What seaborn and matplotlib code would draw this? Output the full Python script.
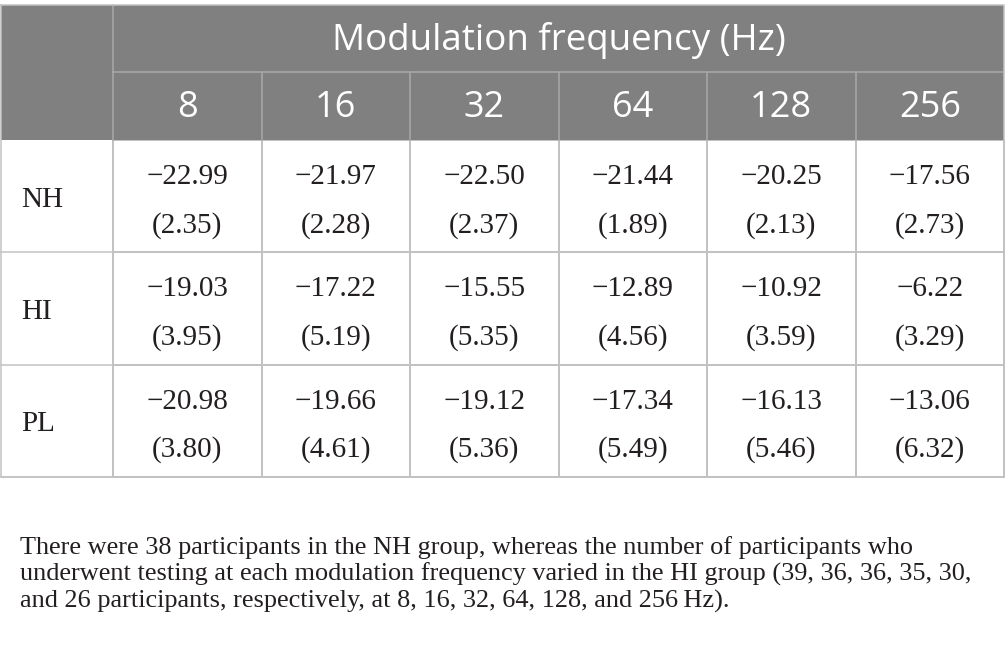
import numpy as np
import matplotlib
matplotlib.use("Agg")
import matplotlib.pyplot as plt
from matplotlib.colors import ListedColormap
from matplotlib.patches import Rectangle
import seaborn as sns

# ---- data ----
groups = ["NH", "HI", "PL"]
freqs = ["8", "16", "32", "64", "128", "256"]
header_title = "Modulation frequency (Hz)"
nh_mean = [-22.99, -21.97, -22.50, -21.44, -20.25, -17.56]
nh_sd = [2.35, 2.28, 2.37, 1.89, 2.13, 2.73]
hi_mean = [-19.03, -17.22, -15.55, -12.89, -10.92, -6.22]
hi_sd = [3.95, 5.19, 5.35, 4.56, 3.59, 3.29]
pl_mean = [-20.98, -19.66, -19.12, -17.34, -16.13, -13.06]
pl_sd = [3.80, 4.61, 5.36, 5.49, 5.46, 6.32]
footnote = [
    "There were 38 participants in the NH group, whereas the number of participants who",
    "underwent testing at each modulation frequency varied in the HI group (39, 36, 36, 35, 30,",
    "and 26 participants, respectively, at 8, 16, 32, 64, 128, and 256\u2009Hz).",
]

means = np.array([nh_mean, hi_mean, pl_mean])
sds = np.array([nh_sd, hi_sd, pl_sd])

W, H = 1005, 655
fig = plt.figure(figsize=(W / 100, H / 100), dpi=100)
ax = fig.add_axes([0, 0, 1, 1])

GRID = "#c2c2c2"
HEAD = "#7f807f"
HEADLINE = "#a9a9a9"
TXT = "#231f20"
SERIF = ["Liberation Serif", "DejaVu Serif"]
SANS = ["Open Sans", "DejaVu Sans"]

sns.heatmap(means, ax=ax, cmap=ListedColormap(["#ffffff"]), cbar=False,
            linewidths=1.1, linecolor=GRID, annot=False,
            xticklabels=False, yticklabels=False)

# pixel mapping: x_px = 113 + x*148.5 ; y_px = 140 + y*112.33
CW, RH = 148.5, 112.33
ax.set_xlim(-113 / CW, (W - 113) / CW)
ax.set_ylim((H - 140) / RH, -140 / RH)
ax.axis("off")

xl = (1 - 113) / CW
xr = (1004 - 113) / CW
yt = (4.5 - 140) / RH
ym = (72 - 140) / RH

# header block
ax.add_patch(Rectangle((xl, yt), xr - xl, -yt, facecolor=HEAD, edgecolor="none", zorder=3))
ax.plot([0, 0], [yt, 0], color=HEADLINE, lw=1.1, zorder=4)
ax.plot([0, xr], [ym, ym], color=HEADLINE, lw=1.1, zorder=4)
for j in range(1, len(freqs)):
    ax.plot([j, j], [ym, 0], color=HEADLINE, lw=1.1, zorder=4)
# outer border
ax.plot([xl, xr, xr, xl, xl], [yt, yt, 3, 3, yt], color=GRID, lw=1.1, zorder=5)
# left column lines
for i in range(1, len(groups) + 1):
    ax.plot([xl, 0], [i, i], color=GRID, lw=1.1, zorder=2)
ax.plot([0, 0], [0, 3], color=GRID, lw=1.1, zorder=2)

# header texts
ax.text(len(freqs) / 2, (yt + ym) / 2 + 0.02, header_title, ha="center", va="center",
        color="white", fontsize=26.5, family=SANS, zorder=6)
for j, f in enumerate(freqs):
    ax.text(j + 0.5, ym / 2 + 0.02, f, ha="center", va="center",
            color="white", fontsize=26, family=SANS, zorder=6)

# row labels and cells
for i, g in enumerate(groups):
    ax.text(xl + 20 / CW, i + 0.53, g, ha="left", va="center", color=TXT,
            fontsize=21, family=SERIF, zorder=6)
    for j in range(len(freqs)):
        ax.text(j + 0.5, i + 0.5 - 19 / RH, "\u2212%.2f" % abs(means[i, j]),
                ha="center", va="center", color=TXT, fontsize=21, family=SERIF, zorder=6)
        ax.text(j + 0.5, i + 0.5 + 29 / RH, "(%.2f)" % sds[i, j],
                ha="center", va="center", color=TXT, fontsize=21, family=SERIF, zorder=6)

# footnote
for k, line in enumerate(footnote):
    fig.text(20 / W, 1 - (554 + 27 * k) / H, line, ha="left", va="baseline",
             color=TXT, fontsize=18.9, family=SERIF)

fig.savefig("out.png", dpi=100, facecolor="white")
